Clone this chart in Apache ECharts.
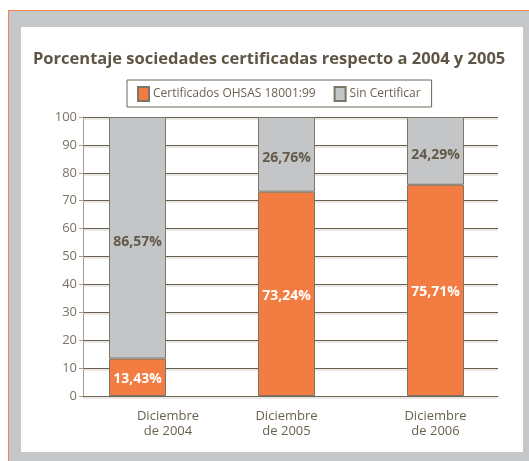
<!DOCTYPE html>
<html>
<head>
<meta charset="utf-8">
<script src="https://cdn.jsdelivr.net/npm/echarts@6/dist/echarts.min.js"></script>
<style>
  html, body { margin: 0; padding: 0; width: 529px; height: 461px; background: #fff; overflow: hidden; }
  #frame { position: absolute; left: 8px; top: 10px; width: 521px; height: 451px; background: #c6c7c9;
           border-top: 1px solid #f5874c; border-left: 1px solid #f5874c; box-sizing: border-box; }
  #panel { position: absolute; left: 21px; top: 27px; width: 502px; height: 425px; background: #fff; }
  #chart { position: absolute; left: 0; top: 0; width: 529px; height: 461px; }
</style>
</head>
<body>
<div id="frame"></div>
<div id="panel"></div>
<div id="chart"></div>
<script>
// data
const categories = ['Diciembre\nde 2004', 'Diciembre\nde 2005', 'Diciembre\nde 2006'];
const certificados = [13.43, 73.24, 75.71];
const sinCertificar = [86.57, 26.76, 24.29];
const yTicks = [0, 10, 20, 30, 40, 50, 60, 70, 80, 90, 100];

const ORANGE = '#f37c42';
const GREY = '#c4c5c7';
const BROWN = '#5e5545';
const pct = v => v.toFixed(2).replace('.', ',') + '%';

const chart = echarts.init(document.getElementById('chart'));

const option = {
  animation: false,
  textStyle: { fontFamily: 'Open Sans' },
  title: {
    text: 'Porcentaje sociedades certificadas respecto a 2004 y 2005',
    left: 28,
    top: 46,
    textStyle: { fontSize: 16.5, fontWeight: 'bold', color: BROWN, fontFamily: 'Open Sans' }
  },
  legend: {
    left: 127,
    top: 80,
    itemWidth: 11,
    itemHeight: 14,
    itemGap: 18,
    padding: [6, 11, 5, 10],
    borderColor: '#6e6556',
    borderWidth: 1,
    icon: 'rect',
    textStyle: { fontSize: 12, color: '#6b6251', padding: [0, 0, 0, -1] },
    data: ['Certificados OHSAS 18001:99', 'Sin Certificar']
  },
  grid: [
    // bars
    { left: 63, right: 19, top: 117, bottom: 65 },
    // axes and split lines
    { left: 83, right: 31, top: 117, bottom: 65 }
  ],
  xAxis: [
    {
      type: 'category',
      gridIndex: 0,
      data: categories.map((c, i) => i === 0
        ? { value: c, textStyle: { padding: [0, 0, 0, 61] } }
        : c),
      axisLine: { show: false },
      axisTick: { show: false },
      axisLabel: { fontSize: 13, color: '#6b6251', lineHeight: 15, margin: 13 }
    },
    {
      type: 'category',
      gridIndex: 1,
      data: categories,
      axisLine: { lineStyle: { color: '#6e6556', width: 1 } },
      axisTick: { length: 4, interval: i => i > 0, lineStyle: { color: '#6e6556' } },
      axisLabel: { show: false }
    }
  ],
  yAxis: [
    { type: 'value', gridIndex: 0, min: 0, max: 100, interval: 10, show: false },
    {
      type: 'value',
      gridIndex: 1,
      min: yTicks[0],
      max: yTicks[yTicks.length - 1],
      interval: 10,
      axisLine: { show: true, lineStyle: { color: '#a39c8f' } },
      axisTick: { show: true, length: 4, lineStyle: { color: '#a39c8f' } },
      axisLabel: { fontSize: 13, color: '#7b7466', margin: 6 },
      splitLine: { lineStyle: { color: '#665d4e', width: 1, shadowColor: '#d6d2c9', shadowOffsetY: 1.5 } }
    }
  ],
  series: [
    {
      name: 'Certificados OHSAS 18001:99',
      type: 'bar',
      stack: 'total',
      xAxisIndex: 0,
      yAxisIndex: 0,
      barWidth: 57,
      data: certificados,
      itemStyle: { color: ORANGE, borderColor: '#7d7566', borderWidth: 1 },
      label: {
        show: true,
        position: 'inside',
        offset: [0, 2],
        formatter: p => pct(p.value),
        color: '#fff',
        fontWeight: 'bold',
        fontSize: 14
      }
    },
    {
      name: 'Sin Certificar',
      type: 'bar',
      stack: 'total',
      xAxisIndex: 0,
      yAxisIndex: 0,
      barWidth: 57,
      data: sinCertificar,
      itemStyle: { color: GREY, borderColor: '#7d7566', borderWidth: 1 },
      label: {
        show: true,
        position: 'inside',
        offset: [0, 4],
        formatter: p => pct(p.value),
        color: '#625a48',
        fontWeight: 'bold',
        fontSize: 14
      }
    }
  ]
};

chart.setOption(option);
</script>
</body>
</html>
